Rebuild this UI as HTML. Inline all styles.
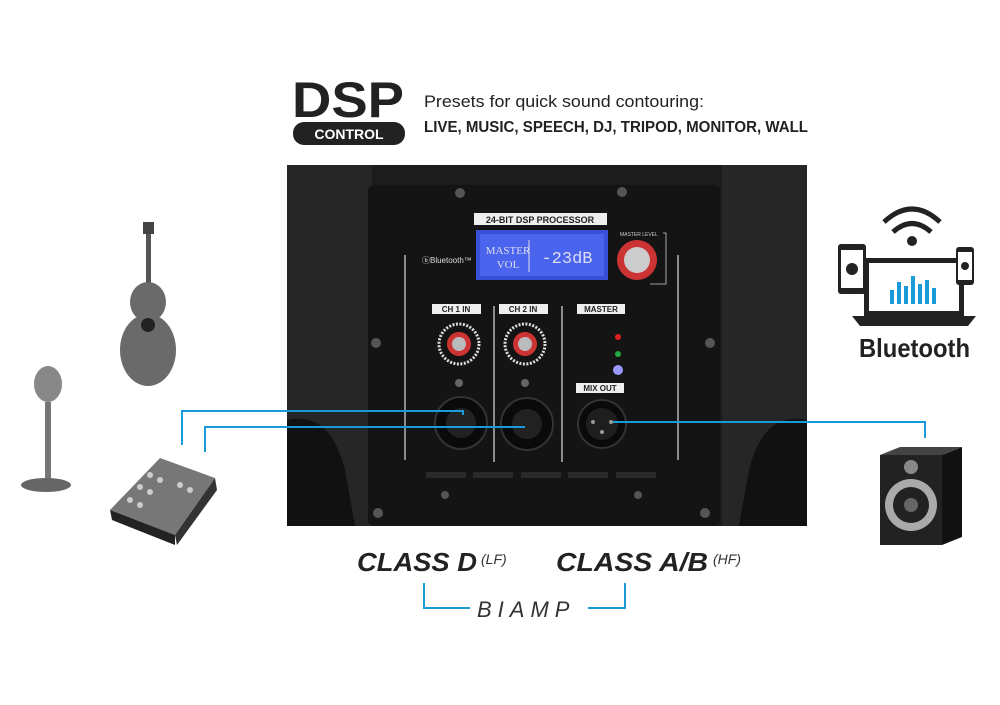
<!DOCTYPE html>
<html><head><meta charset="utf-8"><style>
body{margin:0;width:1000px;height:700px;background:#fff;overflow:hidden;font-family:"Liberation Sans",sans-serif}
</style></head><body>
<svg width="1000" height="700" viewBox="0 0 1000 700" xmlns="http://www.w3.org/2000/svg" font-family="Liberation Sans, sans-serif">
<text x="292" y="117" font-size="50" font-weight="bold" fill="#222" textLength="112" lengthAdjust="spacingAndGlyphs">DSP</text>
<rect x="293" y="122" width="112" height="23" rx="11" fill="#222"/>
<text x="349" y="139" font-size="14" font-weight="bold" fill="#fff" text-anchor="middle">CONTROL</text>
<text x="424" y="107" font-size="17" fill="#222" textLength="280" lengthAdjust="spacingAndGlyphs">Presets for quick sound contouring:</text>
<text x="424" y="132" font-size="16" font-weight="bold" fill="#222" textLength="384" lengthAdjust="spacingAndGlyphs">LIVE, MUSIC, SPEECH, DJ, TRIPOD, MONITOR, WALL</text>

<rect x="287" y="165" width="520" height="361" rx="14" fill="#1c1c1c"/>
<rect x="287" y="165" width="85" height="361" fill="#262626"/>
<rect x="722" y="165" width="85" height="361" fill="#262626"/>
<path d="M287 526 L287 420 Q330 410 345 470 L355 526Z" fill="#111"/>
<path d="M807 526 L807 420 Q764 410 749 470 L739 526Z" fill="#111"/>
<rect x="368" y="185" width="352" height="341" rx="6" fill="#141414"/>
<g fill="#555"><circle cx="460" cy="193" r="5"/><circle cx="622" cy="192" r="5"/><circle cx="376" cy="343" r="5"/><circle cx="710" cy="343" r="5"/><circle cx="445" cy="495" r="4"/><circle cx="638" cy="495" r="4"/><circle cx="378" cy="513" r="5"/><circle cx="705" cy="513" r="5"/></g>
<rect x="474" y="213" width="133" height="12" fill="#eee"/>
<text x="540" y="223" font-size="9" font-weight="bold" fill="#222" text-anchor="middle">24-BIT DSP PROCESSOR</text>
<rect x="476" y="230" width="132" height="50" fill="#3a4fd8"/>
<rect x="480" y="234" width="124" height="42" fill="#4a64ee"/>
<line x1="529" y1="240" x2="529" y2="272" stroke="#dde" stroke-width="1"/>
<text x="508" y="254" font-size="11" fill="#dde" font-family="Liberation Serif, serif" text-anchor="middle">MASTER</text>
<text x="508" y="268" font-size="11" fill="#dde" font-family="Liberation Serif, serif" text-anchor="middle">VOL</text>
<text x="567" y="263" font-size="17" fill="#dde" font-family="Liberation Mono, monospace" text-anchor="middle">-23dB</text>
<text x="422" y="263" font-size="8" fill="#ddd">ⓑBluetooth™</text>
<circle cx="637" cy="260" r="20" fill="#c33"/><circle cx="637" cy="260" r="13" fill="#ccc"/>
<text x="620" y="236" font-size="5" fill="#ccc">MASTER LEVEL</text>
<path d="M663 233 H666 V284 H650" stroke="#ccc" fill="none" stroke-width="0.8"/>
<g stroke="#ddd" stroke-width="1.2"><line x1="405" y1="255" x2="405" y2="460"/><line x1="494" y1="306" x2="494" y2="462"/><line x1="562" y1="306" x2="562" y2="462"/><line x1="678" y1="255" x2="678" y2="460"/></g>
<g font-size="8" font-weight="bold" fill="#222" text-anchor="middle">
<rect x="432" y="304" width="49" height="10" fill="#eee"/><text x="456" y="312">CH 1 IN</text>
<rect x="499" y="304" width="49" height="10" fill="#eee"/><text x="523" y="312">CH 2 IN</text>
<rect x="577" y="304" width="48" height="10" fill="#eee"/><text x="601" y="312">MASTER</text>
<rect x="576" y="383" width="48" height="10" fill="#eee"/><text x="600" y="391">MIX OUT</text>
</g>
<g><circle cx="459" cy="344" r="20" fill="none" stroke="#ddd" stroke-width="3" stroke-dasharray="2 1.5"/><circle cx="459" cy="344" r="12" fill="#c33"/><circle cx="459" cy="344" r="7" fill="#bbb"/>
<circle cx="525" cy="344" r="20" fill="none" stroke="#ddd" stroke-width="3" stroke-dasharray="2 1.5"/><circle cx="525" cy="344" r="12" fill="#c33"/><circle cx="525" cy="344" r="7" fill="#bbb"/></g>
<circle cx="618" cy="337" r="3" fill="#d22"/><circle cx="618" cy="354" r="3" fill="#2a4"/><circle cx="618" cy="370" r="5" fill="#99f"/>
<circle cx="459" cy="383" r="4" fill="#666"/><circle cx="525" cy="383" r="4" fill="#666"/>
<g><circle cx="461" cy="423" r="26" fill="#0a0a0a" stroke="#333" stroke-width="2"/><circle cx="461" cy="423" r="15" fill="#222"/>
<circle cx="527" cy="424" r="26" fill="#0a0a0a" stroke="#333" stroke-width="2"/><circle cx="527" cy="424" r="15" fill="#222"/>
<circle cx="602" cy="424" r="24" fill="#0a0a0a" stroke="#333" stroke-width="2"/><circle cx="602" cy="424" r="16" fill="#1e1e1e"/>
<circle cx="593" cy="422" r="2" fill="#999"/><circle cx="611" cy="422" r="2" fill="#999"/><circle cx="602" cy="432" r="2" fill="#999"/></g>
<g fill="#2a2a2a"><rect x="426" y="472" width="40" height="6"/><rect x="473" y="472" width="40" height="6"/><rect x="521" y="472" width="40" height="6"/><rect x="568" y="472" width="40" height="6"/><rect x="616" y="472" width="40" height="6"/></g>
<g stroke="#1a9ad6" stroke-width="2" fill="none">
<path d="M182 445 V411 H463 V415"/>
<path d="M205 452 V427 H525"/>
<path d="M613 422 H925 V438"/>
</g>
<g fill="#6a6a6a"><rect x="146" y="228" width="5" height="55" fill="#555"/><rect x="143" y="222" width="11" height="12" fill="#444"/>
<ellipse cx="148" cy="302" rx="18" ry="20"/><ellipse cx="148" cy="350" rx="28" ry="36"/>
<circle cx="148" cy="325" r="7" fill="#222"/></g>
<g><ellipse cx="48" cy="384" rx="14" ry="18" fill="#888"/><rect x="45" y="402" width="6" height="78" fill="#777"/><ellipse cx="46" cy="485" rx="25" ry="7" fill="#666"/></g>
<g><path d="M110 510 L160 458 L215 478 L175 535Z" fill="#777"/><path d="M110 510 L175 535 L175 545 L112 520Z" fill="#222"/><path d="M175 535 L215 478 L217 490 L177 545Z" fill="#333"/>
<g fill="#ccc"><circle cx="150" cy="475" r="3"/><circle cx="160" cy="480" r="3"/><circle cx="140" cy="487" r="3"/><circle cx="150" cy="492" r="3"/><circle cx="130" cy="500" r="3"/><circle cx="140" cy="505" r="3"/><circle cx="180" cy="485" r="3"/><circle cx="190" cy="490" r="3"/></g></g>
<g><rect x="880" y="455" width="62" height="90" fill="#222"/><path d="M942 455 L962 447 V537 L942 545Z" fill="#111"/><path d="M880 455 L900 447 H962 L942 455Z" fill="#444"/>
<circle cx="911" cy="467" r="7" fill="#888"/><circle cx="911" cy="505" r="26" fill="#aaa"/><circle cx="911" cy="505" r="18" fill="#222"/><circle cx="911" cy="505" r="7" fill="#666"/></g>
<g fill="none" stroke="#222" stroke-width="5">
<path d="M884 222 Q912 196 940 222"/><path d="M893 232 Q912 215 931 232"/></g>
<circle cx="912" cy="241" r="5" fill="#222"/>
<rect x="864" y="258" width="100" height="58" fill="#222"/><rect x="869" y="263" width="90" height="48" fill="#fff"/>
<path d="M852 316 H976 L968 326 H860Z" fill="#222"/>
<g fill="#1a9ad6"><rect x="890" y="290" width="4" height="14"/><rect x="897" y="282" width="4" height="22"/><rect x="904" y="286" width="4" height="18"/><rect x="911" y="276" width="4" height="28"/><rect x="918" y="284" width="4" height="20"/><rect x="925" y="280" width="4" height="24"/><rect x="932" y="288" width="4" height="16"/></g>
<rect x="838" y="244" width="28" height="50" rx="3" fill="#222"/><rect x="841" y="250" width="22" height="38" fill="#fff"/><circle cx="852" cy="269" r="6" fill="#222"/>
<rect x="956" y="247" width="18" height="38" rx="3" fill="#222"/><rect x="958" y="252" width="14" height="28" fill="#fff"/><circle cx="965" cy="266" r="4" fill="#222"/>
<text x="859" y="357" font-size="26" font-weight="bold" fill="#222" textLength="111" lengthAdjust="spacingAndGlyphs">Bluetooth</text>
<text x="357" y="571" font-size="26" font-weight="bold" font-style="italic" fill="#222" textLength="120" lengthAdjust="spacingAndGlyphs">CLASS D</text>
<text x="481" y="564" font-size="14" font-style="italic" fill="#333">(LF)</text>
<text x="556" y="571" font-size="26" font-weight="bold" font-style="italic" fill="#222" textLength="152" lengthAdjust="spacingAndGlyphs">CLASS A/B</text>
<text x="713" y="564" font-size="14" font-style="italic" fill="#333">(HF)</text>
<path d="M424 583 V608 H470" stroke="#1a9ad6" stroke-width="2" fill="none"/>
<path d="M588 608 H625 V583" stroke="#1a9ad6" stroke-width="2" fill="none"/>
<text x="477" y="617" font-size="22" font-style="italic" fill="#333" letter-spacing="6">BIAMP</text>
</svg>
</body></html>
